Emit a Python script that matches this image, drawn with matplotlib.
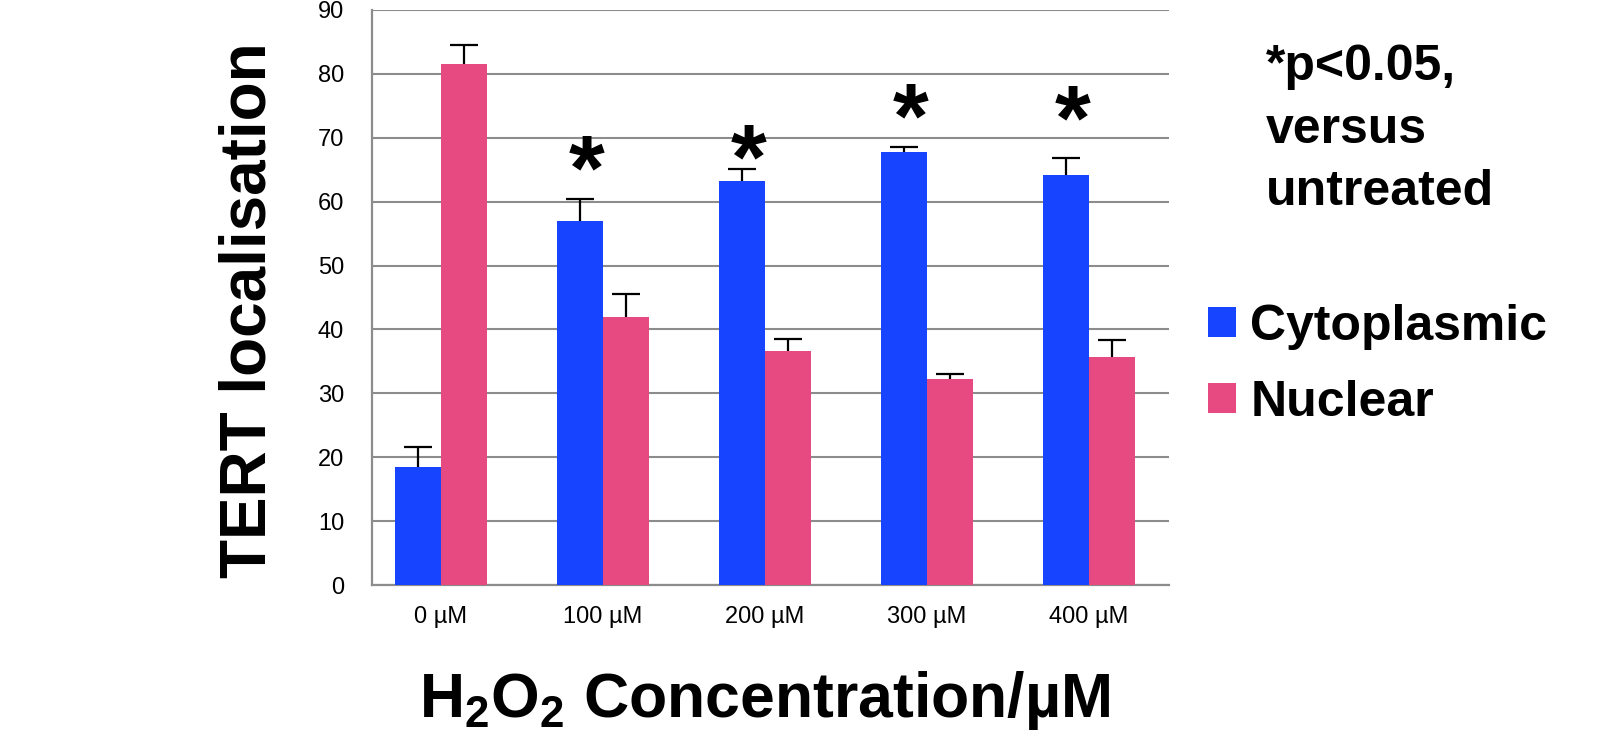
import matplotlib
matplotlib.use('Agg')
from matplotlib import pyplot as plt
import numpy as np

plt.rcParams['font.family'] = ['Liberation Sans', 'DejaVu Sans']
plt.rcParams['mathtext.fontset'] = 'custom'
plt.rcParams['mathtext.rm'] = 'Liberation Sans'
plt.rcParams['mathtext.bf'] = 'Liberation Sans:bold'

concentrations = ['0 µM', '100 µM', '200 µM', '300 µM', '400 µM']
cytoplasmic = [18.5, 57.0, 63.2, 67.8, 64.2]
cytoplasmic_err = [3.1, 3.4, 1.9, 0.8, 2.7]
nuclear = [81.5, 42.0, 36.6, 32.2, 35.7]
nuclear_err = [3.1, 3.5, 1.9, 0.9, 2.7]
# significance stars (groups 100-400 uM) and their heights
star_groups = [1, 2, 3, 4]
star_heights = [66.5, 68.2, 74.6, 74.4]

blue = '#1744FF'
pink = '#E64A80'
grid_gray = '#8C8C8C'

fig = plt.figure(figsize=(16.21, 7.52), dpi=100)
ax = fig.add_axes([372 / 1621, 1 - 585 / 752, (1169 - 372) / 1621, (585 - 10) / 752])

x = np.arange(len(concentrations))
w = 0.284
err_kw = dict(ecolor='black', elinewidth=1.6, capsize=10, capthick=1.6)
b1 = ax.bar(x - w / 2, cytoplasmic, w, color=blue, label='Cytoplasmic', zorder=3,
            yerr=[np.zeros(len(x)), cytoplasmic_err], error_kw=err_kw)
b2 = ax.bar(x + w / 2, nuclear, w, color=pink, label='Nuclear', zorder=3,
            yerr=[np.zeros(len(x)), nuclear_err], error_kw=err_kw)
# only the upper whisker is drawn in the original
for b in (b1, b2):
    b.errorbar.lines[1][0].set_visible(False)

for g, h in zip(star_groups, star_heights):
    ax.annotate('*', (g - w / 2 + 0.04, h), xytext=(0, -11), textcoords='offset points',
                fontsize=66, fontweight='bold', ha='center', va='center', zorder=4)

ax.set_xlim(-0.426, 4.494)
ax.set_ylim(0, 90)
ax.set_yticks(range(0, 91, 10))
ax.set_xticks(x)
ax.set_xticklabels(concentrations)
ax.tick_params(axis='both', length=0, labelsize=17)
ax.tick_params(axis='x', pad=15)
ax.tick_params(axis='y', pad=20)
ax.yaxis.grid(True, color=grid_gray, linewidth=1.5, zorder=0)
ax.set_axisbelow(True)
for side in ['top', 'right']:
    ax.spines[side].set_visible(False)
for side in ['left', 'bottom']:
    ax.spines[side].set_color(grid_gray)
    ax.spines[side].set_linewidth(1.6)

fig.text(248 / 1621, 1 - 310 / 752, 'TERT localisation', rotation=90,
         fontsize=46, fontweight='bold', ha='center', va='center')
fig.text(765 / 1621, 1 - 700 / 752, r'H$_\mathbf{2}$O$_\mathbf{2}$ Concentration/µM',
         fontsize=45, fontweight='bold', ha='center', va='center')

fig.text(1266 / 1621, 1 - 44 / 752, '*p<0.05,\nversus\nuntreated',
         fontsize=36, fontweight='bold', ha='left', va='top', linespacing=1.46)

leg = ax.legend(loc='center left', bbox_to_anchor=(1208 / 1621, 1 - 365 / 752),
                bbox_transform=fig.transFigure, frameon=False,
                prop=dict(size=36, weight='bold'), handlelength=0.55,
                handleheight=0.55, handletextpad=0.3, labelspacing=0.6,
                borderpad=0, borderaxespad=0)

fig.savefig('out.png', dpi=100)
